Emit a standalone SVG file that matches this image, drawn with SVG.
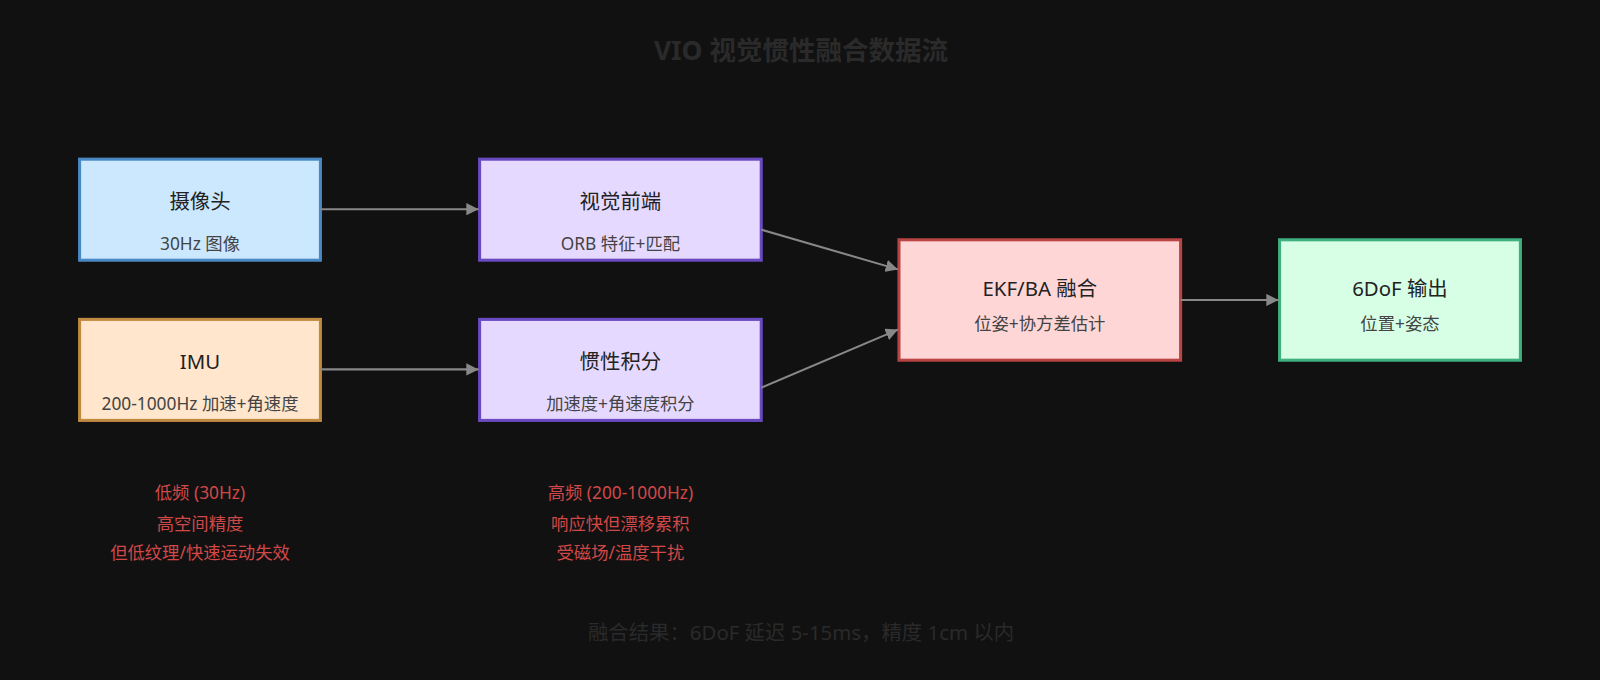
<svg xmlns="http://www.w3.org/2000/svg" width="1600" height="680" viewBox="0 0 1600 680">
<style>
text{font-family:"Noto Sans","Noto Sans CJK SC",sans-serif;text-anchor:middle}
.t{font-size:20px;fill:#222}
.s{font-size:17px;fill:#444}
.n{font-size:17px;fill:#d04848}
.box{stroke-width:3}
.c{stroke:#888;stroke-width:2;fill:none;marker-end:url(#a)}
</style>
<defs><marker id="a" viewBox="0 0 10 10" refX="10" refY="5" markerWidth="6" markerHeight="6" orient="auto"><path d="M0,0L10,5L0,10z" fill="#888"/></marker></defs>
<rect width="1600" height="680" fill="#111"/>
<g transform="scale(1.0204)">
<text x="785" y="59" style="font-size:26px;font-weight:bold;fill:#2a2a2a">VIO 视觉惯性融合数据流</text>
<g id="camera"><rect class="box" x="78" y="156" width="236" height="99" fill="#cce8ff" stroke="#4a8ac4"/><text class="t" x="196" y="205">摄像头</text><text class="s" x="196" y="245">30Hz 图像</text></g>
<g id="imu"><rect class="box" x="78" y="313" width="236" height="99" fill="#ffe6cc" stroke="#c08a40"/><text class="t" x="196" y="362">IMU</text><text class="s" x="196" y="402">200-1000Hz 加速+角速度</text></g>
<g id="vfront"><rect class="box" x="470" y="156" width="276" height="99" fill="#e6d9ff" stroke="#6a4ac0"/><text class="t" x="608" y="205">视觉前端</text><text class="s" x="608" y="245">ORB 特征+匹配</text></g>
<g id="integ"><rect class="box" x="470" y="313" width="276" height="99" fill="#e6d9ff" stroke="#6a4ac0"/><text class="t" x="608" y="362">惯性积分</text><text class="s" x="608" y="402">加速度+角速度积分</text></g>
<g id="ekf"><rect class="box" x="881" y="235" width="276" height="118" fill="#ffd6d6" stroke="#b84444"/><text class="t" x="1019" y="290">EKF/BA 融合</text><text class="s" x="1019" y="323">位姿+协方差估计</text></g>
<g id="out"><rect class="box" x="1254" y="235" width="236" height="118" fill="#d6ffe6" stroke="#40b080"/><text class="t" x="1372" y="290">6DoF 输出</text><text class="s" x="1372" y="323">位置+姿态</text></g>
<g id="connectors">
<line class="c" x1="314" y1="205" x2="469" y2="205"/>
<line class="c" x1="314" y1="362" x2="469" y2="362"/>
<line class="c" x1="746" y1="225" x2="880" y2="264"/>
<line class="c" x1="746" y1="380" x2="880" y2="323"/>
<line class="c" x1="1157" y1="294" x2="1253" y2="294"/>
</g>
<g id="notes">
<text class="n" x="196" y="489">低频 (30Hz)</text><text class="n" x="196" y="519">高空间精度</text><text class="n" x="196" y="548">但低纹理/快速运动失效</text>
<text class="n" x="608" y="489">高频 (200-1000Hz)</text><text class="n" x="608" y="519">响应快但漂移累积</text><text class="n" x="608" y="548">受磁场/温度干扰</text>
</g>
<text x="785" y="627" style="font-size:20px;fill:#2a2a2a">融合结果：6DoF 延迟 5-15ms，精度 1cm 以内</text>
</g>
</svg>
